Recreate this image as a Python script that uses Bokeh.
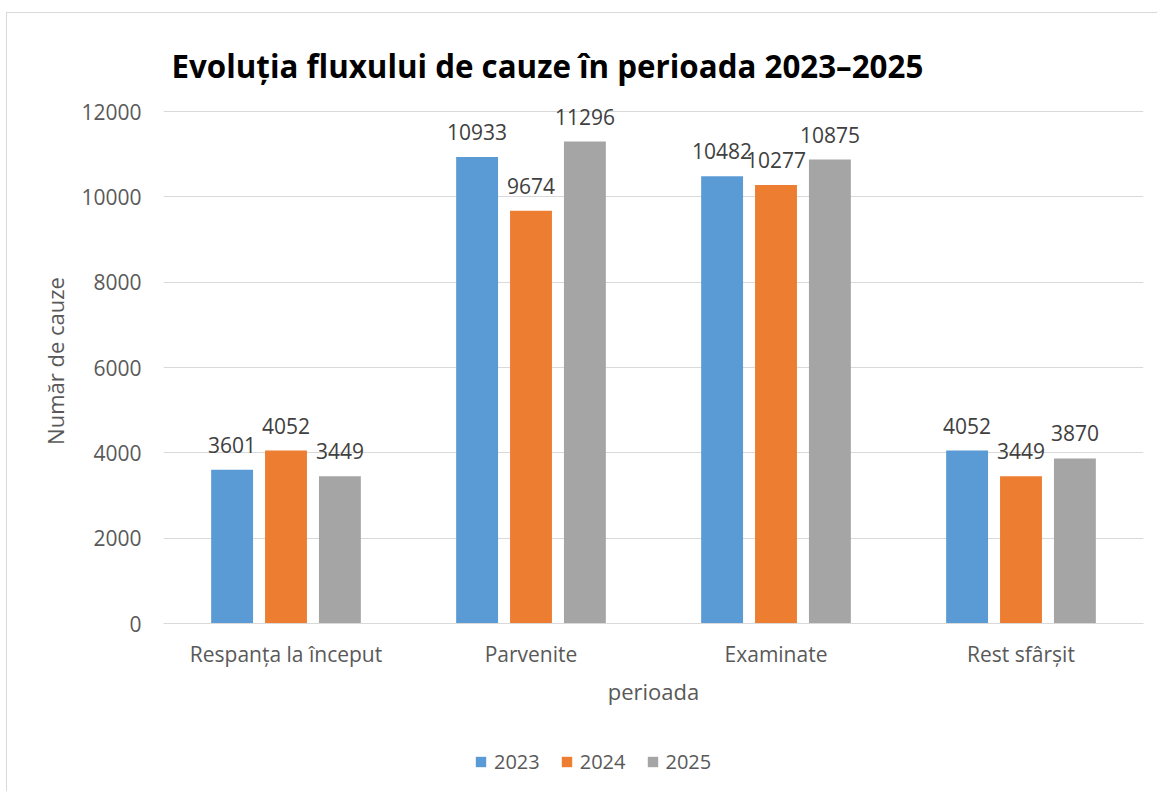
from bokeh.plotting import figure
from bokeh.layouts import column
from bokeh.models import ColumnDataSource, FactorRange, Range1d, LabelSet, Legend, LegendItem, FixedTicker
from bokeh.transform import dodge
from bokeh.core.properties import value
from bokeh.embed import file_html
from bokeh.resources import INLINE

categories = ["Respanța la început", "Parvenite", "Examinate", "Rest sfârșit"]
years = ["2023", "2024", "2025"]
v2023 = [3601, 10933, 10482, 4052]
v2024 = [4052, 9674, 10277, 3449]
v2025 = [3449, 11296, 10875, 3870]
colors = ["#5B9BD5", "#ED7D31", "#A5A5A5"]
y_ticks = [0, 2000, 4000, 6000, 8000, 10000, 12000]

FONT = "Open Sans"
TXT = "#595959"

src = ColumnDataSource(dict(
    cat=categories,
    y2023=v2023, y2024=v2024, y2025=v2025,
    t2023=[str(v) for v in v2023],
    t2024=[str(v) for v in v2024],
    t2025=[str(v) for v in v2025],
))

p = figure(x_range=FactorRange(factors=categories), y_range=Range1d(0, 12305),
           width=1150, height=718, output_backend="svg", toolbar_location=None,
           min_border_left=156, min_border_right=14, min_border_top=85, min_border_bottom=108)
p.outline_line_color = None
p.background_fill_color = "white"

p.title.text = "Evoluția fluxului de cauze în perioada 2023–2025"
p.title.text_font = FONT
p.title.text_font_size = "31.3px"
p.title.text_font_style = "bold"
p.title.text_color = "#000000"
p.title.align = "left"
p.title.offset = 8
p.title.standoff = 23

offsets = [-0.22, 0.0, 0.22]
for yr, col, off in zip(years, colors, offsets):
    p.vbar(x=dodge("cat", off, range=p.x_range), top="y" + yr, width=0.171,
           source=src, fill_color=col, line_color=None)
    lbl = LabelSet(x=dodge("cat", off, range=p.x_range), y="y" + yr, text="t" + yr,
                   source=src, text_align="center", text_baseline="middle", y_offset=25,
                   text_font=value(FONT), text_font_size=value("21px"), text_color="#404040")
    p.add_layout(lbl)

# axes
p.yaxis.ticker = FixedTicker(ticks=y_ticks)
p.yaxis.axis_line_color = None
p.yaxis.major_tick_line_color = None
p.yaxis.minor_tick_line_color = None
p.yaxis.major_label_standoff = 16
p.yaxis.major_label_text_font = FONT
p.yaxis.major_label_text_font_size = "21px"
p.yaxis.major_label_text_color = TXT
p.yaxis.axis_label = "Număr de cauze"
p.yaxis.axis_label_text_font = FONT
p.yaxis.axis_label_text_font_size = "22px"
p.yaxis.axis_label_text_font_style = "normal"
p.yaxis.axis_label_text_color = TXT
p.yaxis.axis_label_standoff = 8

p.xaxis.axis_line_color = "#D9D9D9"
p.xaxis.major_tick_line_color = None
p.xaxis.minor_tick_line_color = None
p.xaxis.major_label_standoff = 10
p.xaxis.major_label_text_font = FONT
p.xaxis.major_label_text_font_size = "21px"
p.xaxis.major_label_text_color = TXT
p.xaxis.axis_label = "perioada"
p.xaxis.axis_label_text_font = FONT
p.xaxis.axis_label_text_font_size = "22px"
p.xaxis.axis_label_text_font_style = "normal"
p.xaxis.axis_label_text_color = TXT
p.xaxis.axis_label_standoff = 5

p.xgrid.grid_line_color = None
p.ygrid.grid_line_color = "#D9D9D9"
p.ygrid.grid_line_width = 1

# legend strip below the chart (its series bars have no area and lie outside the strip's range)
p2 = figure(x_range=p.x_range, y_range=Range1d(-15000, -12000), width=1150, height=60,
            output_backend="svg", toolbar_location=None,
            x_axis_location=None, y_axis_location=None,
            min_border_left=0, min_border_right=0, min_border_top=0, min_border_bottom=0)
p2.outline_line_color = None
p2.xgrid.grid_line_color = None
p2.ygrid.grid_line_color = None
leg_renderers = []
for yr, col, off in zip(years, colors, offsets):
    leg_renderers.append(p2.vbar(x=dodge("cat", off, range=p.x_range), top="y" + yr, bottom="y" + yr,
                                 width=0, source=src, fill_color=col, line_color=None))
legend = Legend(items=[LegendItem(label=yr, renderers=[r]) for yr, r in zip(years, leg_renderers)],
                orientation="horizontal", location=(311, 16),
                glyph_width=13, glyph_height=13, label_standoff=7, spacing=20,
                padding=0, margin=0, border_line_color=None, background_fill_alpha=0,
                label_text_font=FONT, label_text_font_size="20px", label_text_color=TXT)
p2.add_layout(legend, "center")

layout = column(p, p2, spacing=0,
                styles={"border-left": "1px solid #D9D9D9", "border-top": "1px solid #D9D9D9",
                        "margin-top": "12px", "margin-left": "6px"})

open("out.html", "w").write(file_html(layout, INLINE))
